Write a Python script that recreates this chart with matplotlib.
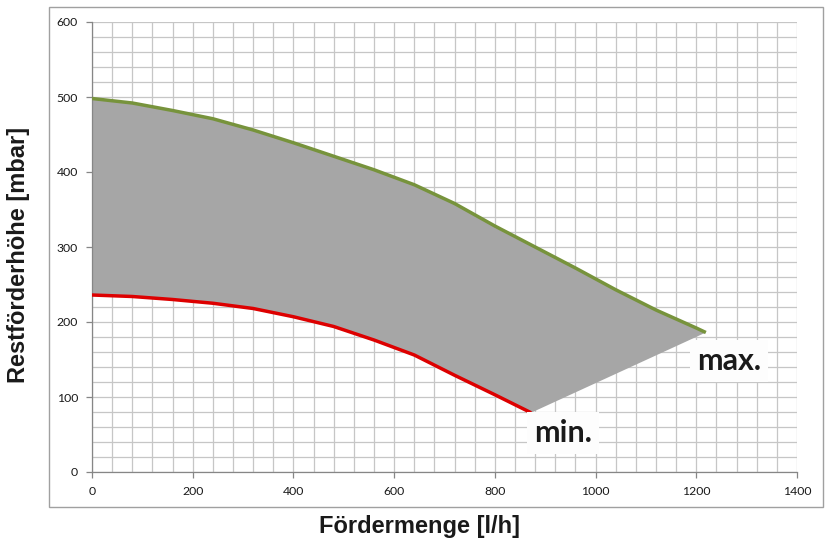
import matplotlib
matplotlib.use("Agg")
import matplotlib.pyplot as plt
from matplotlib.patches import Rectangle
import numpy as np

# Data
max_x = [0, 80, 160, 240, 320, 400, 480, 560, 640, 720, 800, 880, 960, 1040, 1120, 1200, 1219]
max_y = [498, 492, 482, 471, 456, 439, 421, 403, 383, 358, 328, 300, 272, 243, 216, 192, 186]
min_x = [0, 80, 160, 240, 320, 400, 480, 560, 640, 720, 800, 872]
min_y = [236, 234, 230, 225, 218, 207, 194, 176, 156, 129, 103, 79]

x_ticks = [0, 200, 400, 600, 800, 1000, 1200, 1400]
y_ticks = [0, 100, 200, 300, 400, 500, 600]
x_label = "Fördermenge [l/h]"
y_label = "Restförderhöhe [mbar]"

W, H = 828, 542
fig = plt.figure(figsize=(W/100, H/100), dpi=100)
fig.patch.set_facecolor("white")

# outer chart frame
fig.patches.append(Rectangle((49/W, 1-507/H), (823-49)/W, (507-7)/H,
                             transform=fig.transFigure, fill=False,
                             edgecolor="#a0a0a0", linewidth=1.0, zorder=0))

ax = fig.add_axes([92/W, 1-472/H, (797-92)/W, (472-22)/H])
ax.set_xlim(0, 1400)
ax.set_ylim(0, 600)

ax.set_xticks(x_ticks)
ax.set_yticks(y_ticks)
ax.set_xticks(np.arange(0, 1401, 40), minor=True)
ax.set_yticks(np.arange(0, 601, 20), minor=True)
ax.grid(which="both", color="#c6c6c6", linewidth=0.9, zorder=0)
ax.set_axisbelow(True)

tick_font = dict(family="Lato", size=8.8, color="#1a1a1a")
ax.set_xticklabels([str(v) for v in x_ticks], **tick_font)
ax.set_yticklabels([str(v) for v in y_ticks], **tick_font)
ax.tick_params(which="major", length=4, width=0.9, color="#868686", pad=6)
ax.tick_params(which="minor", length=0)

for s in ["left", "bottom"]:
    ax.spines[s].set_color("#868686")
    ax.spines[s].set_linewidth(0.9)
for s in ["top", "right"]:
    ax.spines[s].set_visible(False)

# shaded area between curves
poly_x = list(max_x) + list(min_x[::-1])
poly_y = list(max_y) + list(min_y[::-1])
ax.fill(poly_x, poly_y, color="#a6a6a6", linewidth=0, zorder=2)

ax.plot(max_x, max_y, color="#77933c", linewidth=2.5, solid_capstyle="butt",
        solid_joinstyle="round", zorder=3)
ax.plot(min_x, min_y, color="#dd0000", linewidth=2.5, solid_capstyle="butt",
        solid_joinstyle="round", zorder=3)

box = dict(boxstyle="square,pad=0.22", facecolor="#fdfdfd", edgecolor="none")
ax.text(1265, 148, "max.", fontsize=22, fontweight="bold", family="Lato",
        color="#1a1a1a", ha="center", va="center", bbox=box, zorder=4)
ax.text(935, 52, "min.", fontsize=22, fontweight="bold", family="Lato",
        color="#1a1a1a", ha="center", va="center", bbox=box, zorder=4)

fig.text(420/W, 1-527/H, x_label, fontsize=17, fontweight="bold",
         family="Liberation Sans", ha="center", va="center", color="#1a1a1a")
fig.text(19/W, 1-255/H, y_label, fontsize=17, fontweight="bold", rotation=90,
         family="Liberation Sans", ha="center", va="center", color="#1a1a1a")

fig.savefig("out.png", dpi=100, facecolor="white")
